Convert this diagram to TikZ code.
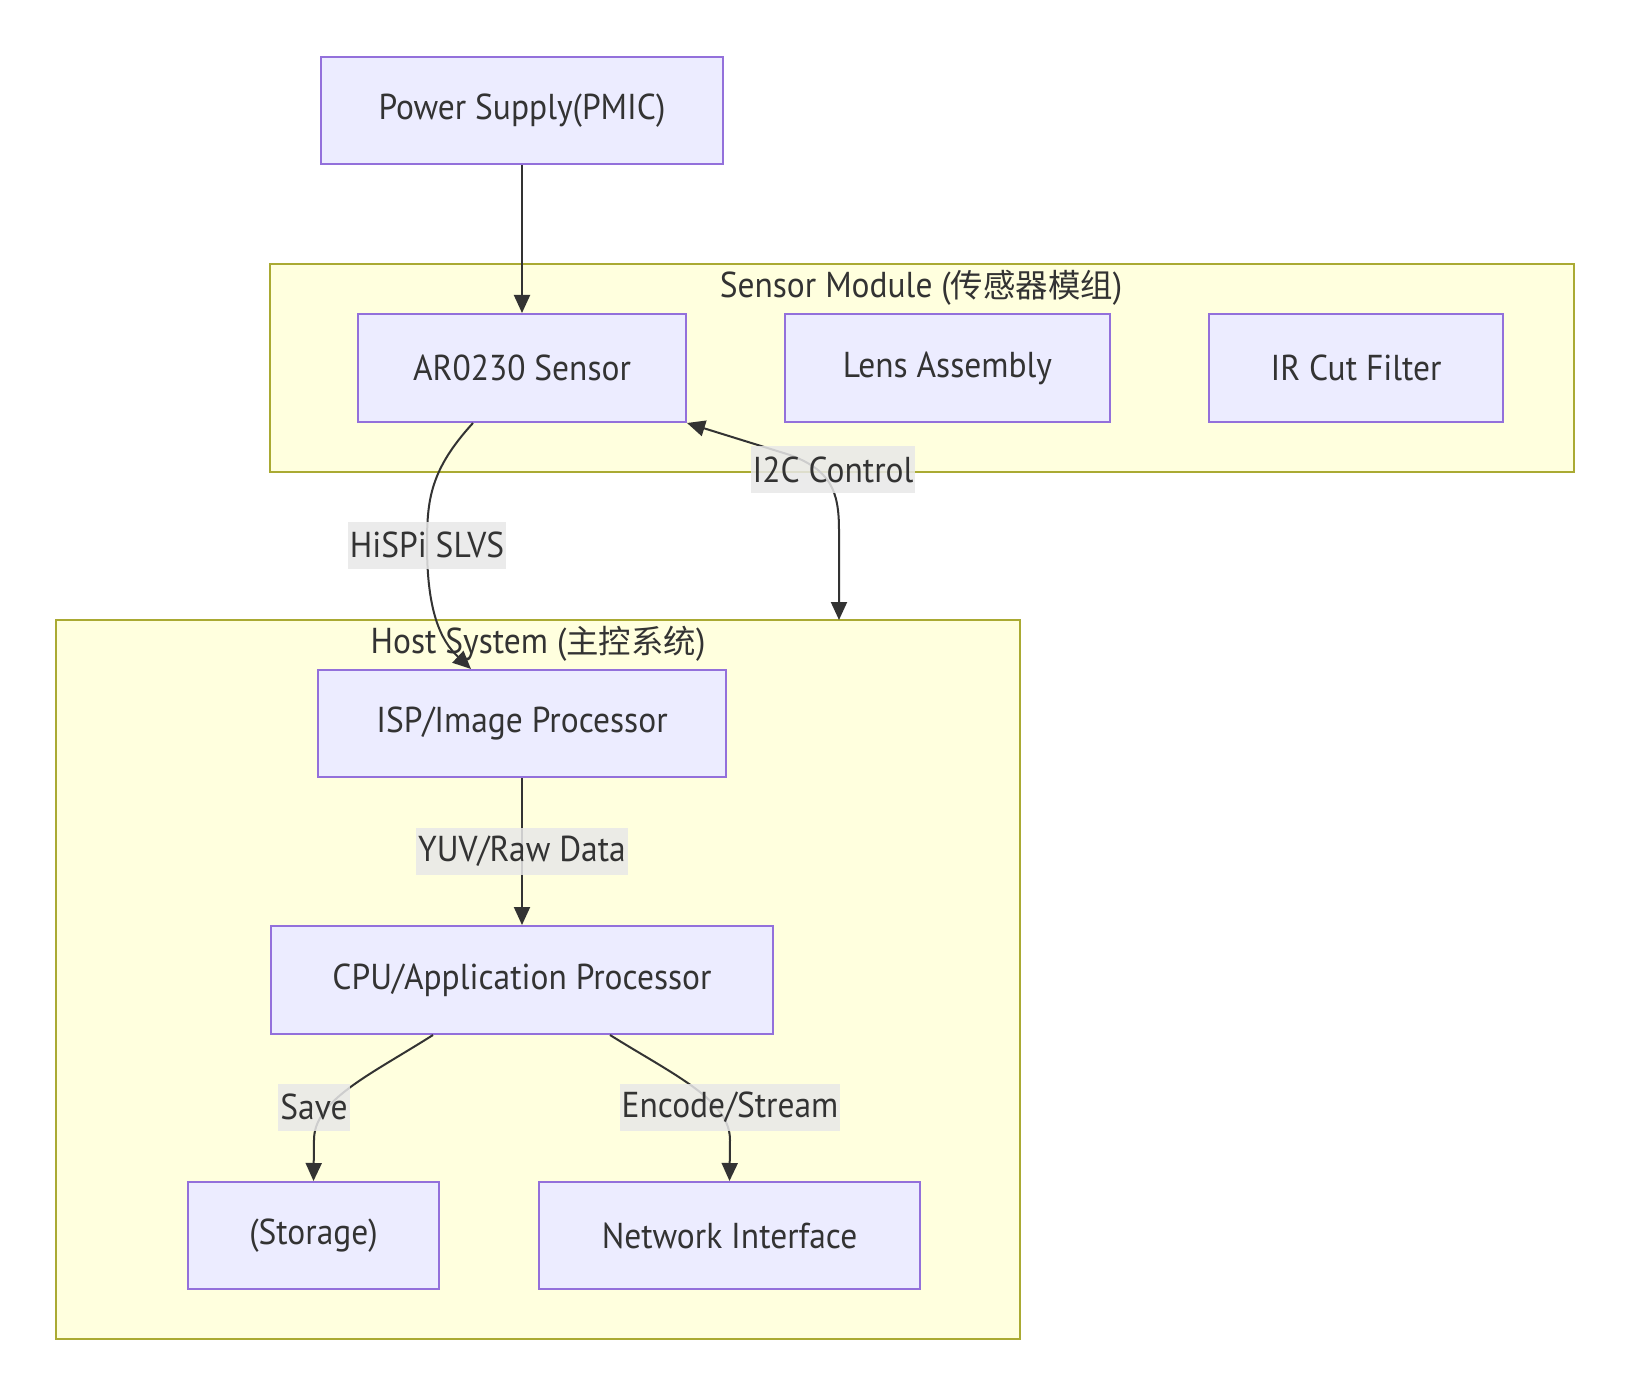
\documentclass[tikz,border=0pt]{standalone}
\usepackage{fontspec}
\setmainfont{PT Sans}[FakeStretch=0.93]
\newfontfamily\cjk{Noto Sans CJK SC}[Scale=0.9]
\usetikzlibrary{arrows.meta}
\definecolor{nodefill}{HTML}{ECECFF}
\definecolor{nodestroke}{HTML}{9370DB}
\definecolor{clusterfill}{HTML}{FFFFDE}
\definecolor{clusterstroke}{HTML}{AAAA33}
\definecolor{txt}{HTML}{333333}
\definecolor{lblbg}{HTML}{E8E8E8}
\begin{document}
\begin{tikzpicture}[x=0.5pt,y=-0.5pt,
  every node/.style={text=txt},
  box/.style={draw=nodestroke, fill=nodefill, line width=1pt, inner sep=0pt, minimum height=53.5pt, font=\fontsize{18}{21}\selectfont},
  cluster/.style={draw=clusterstroke, fill=clusterfill, line width=1pt, inner sep=0pt},
  ctitle/.style={inner sep=0pt, font=\fontsize{18}{21}\selectfont},
  elabel/.style={fill=lblbg, fill opacity=0.85, text opacity=1, inner xsep=1pt, inner ysep=0pt, minimum height=23.5pt, font=\fontsize{18}{21}\selectfont},
  conn/.style={draw=txt, line width=1pt, -{Triangle[length=9pt,width=8pt]}},
  conn2/.style={draw=txt, line width=1pt, {Triangle[length=9pt,width=8pt]}-{Triangle[length=9pt,width=8pt]}}
]
\useasboundingbox (0,0) rectangle (1629,1396);
\fill[white] (0,0) rectangle (1629,1396);

% clusters
\node[cluster, minimum width=652pt, minimum height=104pt] (sensorbox) at (922,368) {};
\node[ctitle] (sensortitle) at (921,288) {Sensor Module ({\cjk 传感器模组})};
\node[cluster, minimum width=482pt, minimum height=359.5pt] (hostbox) at (538,979.5) {};
\node[ctitle] (hosttitle) at (538,644) {Host System ({\cjk 主控系统})};

% nodes
\node[box, minimum width=201pt] (power) at (522,111) {Power Supply(PMIC)};
\node[box, minimum width=164pt, minimum height=54pt] (sensor) at (522,368) {AR0230 Sensor};
\node[box, minimum width=162.5pt, minimum height=54pt] (lens) at (947.5,368) {Lens Assembly};
\node[box, minimum width=147pt, minimum height=54pt] (ir) at (1356,368) {IR Cut Filter};
\node[box, minimum width=204pt] (isp) at (522,723.5) {ISP/Image Processor};
\node[box, minimum width=251pt, minimum height=54pt] (cpu) at (522,980) {CPU/Application Processor};
\node[box, minimum width=125.5pt] (storage) at (313.5,1235.5) {(Storage)};
\node[box, minimum width=190.5pt] (net) at (729.5,1235.5) {Network Interface};

\coordinate (i2cend) at (839,620);

% connectors
\draw[conn] (power.south) -- (sensor.north);
\draw[conn] (sensor.south -| 473,0) .. controls (430,470) and (427,500) .. (427,545) .. controls (427,610) and (440,640) .. (isp.north -| 471,0);
\draw[conn2] (sensor.south east) -- (790,455) .. controls (830,470) and (839,490) .. (839,530) -- (i2cend);
\draw[conn] (isp.south) -- (cpu.north);
\draw[conn] (cpu.south -| 433,0) .. controls (370,1075) and (314,1100) .. (314,1140) -- (storage.north);
\draw[conn] (cpu.south -| 610,0) .. controls (674,1075) and (730,1100) .. (730,1140) -- (net.north);

% edge labels
\node[elabel] (l1) at (427,545) {HiSPi SLVS};
\node[elabel] (l2) at (833,469.5) {I2C Control};
\node[elabel] (l3) at (522,851) {YUV/Raw Data};
\node[elabel] (l4) at (314,1107) {Save};
\node[elabel] (l5) at (730,1107) {Encode/Stream};
\end{tikzpicture}
\end{document}
